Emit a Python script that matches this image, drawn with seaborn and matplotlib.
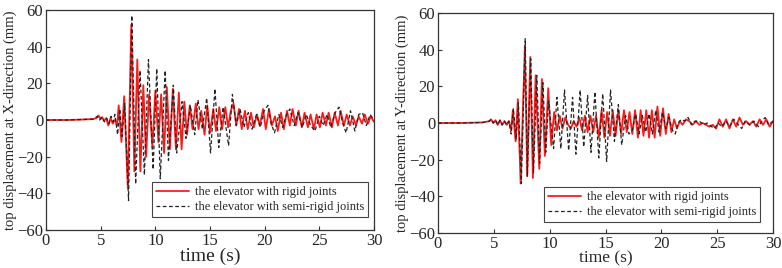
import matplotlib
matplotlib.use("Agg")
import matplotlib.pyplot as plt
import seaborn as sns

# peaks / troughs, X direction
x_rigid_t = [0, 2, 3.5, 4.3, 4.6, 4.8, 5.0, 5.15, 5.3, 5.5, 5.7, 5.9, 6.1, 6.3, 6.5,
             6.65, 6.9, 7.15, 7.48, 7.8, 8.08, 8.35, 8.63, 8.9, 9.15, 9.43, 9.73, 10.0,
             10.28, 10.53, 10.8, 11.05, 11.33, 11.6, 11.88, 12.15, 12.4, 12.65, 12.9,
             13.15, 13.4, 13.7, 13.95, 14.2, 14.5, 14.75, 15.0, 15.3, 15.55, 15.85, 16.1,
             16.4, 16.65, 16.9, 17.15, 17.4, 17.65, 17.9, 18.2, 18.45, 18.75, 19.0, 19.3,
             19.55, 19.85, 20.1, 20.4, 20.65, 20.95, 21.2, 21.5, 21.75, 22.05, 22.3, 22.55,
             22.85, 23.1, 23.4, 23.65, 23.95, 24.2, 24.5, 24.75, 25.05, 25.3, 25.6, 25.85,
             26.15, 26.4, 26.7, 26.95, 27.25, 27.5, 27.8, 28.05, 28.35, 28.6, 28.9, 29.15,
             29.45, 29.7, 30]
x_rigid_v = [0, 0, 0.3, 0.5, 1, 2.5, 0.5, 1.5, -0.5, 1, -3, 1, -2, 0, -3,
             8, -12, 13, -37, 52, -28, 33, -28, 19, -20, 14, -15, 16,
             -12, 14, -18, 18, -16, 17, -16, 15, -16, 10, -8,
             8, -5, 9, -5, 5, -8, 8, -7, 6, -6, 7, -5,
             7, -4, 5, 9, -3, 6, -5, 5, -5, 4, -4, 3,
             -3, 6, -5, 6, -3, 2, -6, 4, -5, 5, -3, 6,
             -3, 5, -4, 4, -4, 3, -5, 3, -4, 4, -3, 4,
             -4, 4, -3, 5, -3, 3, -3, 2, -3, 2, -2, 3,
             -2, 2, -1]

x_semi_t = [0, 2, 3.5, 4.3, 4.7, 4.9, 5.1, 5.35, 5.55, 5.75, 5.95, 6.15, 6.3, 6.55,
            6.75, 6.95, 7.2, 7.55, 7.85, 8.2, 8.6, 9.0, 9.37, 9.8, 10.13, 10.45, 10.9,
            11.2, 11.65, 11.95, 12.45, 12.8, 13.2, 13.6, 13.9, 14.3, 14.7, 15.05, 15.45,
            15.8, 16.2, 16.7, 17.05, 17.4, 17.75, 18.1, 18.5, 18.85, 19.25, 19.6, 19.95,
            20.3, 20.6, 20.9, 21.3, 21.65, 22.0, 22.3, 22.7, 23.05, 23.45, 23.8, 24.2,
            24.6, 25.0, 25.35, 25.7, 26.05, 26.45, 26.8, 27.15, 27.45, 27.85, 28.25,
            28.6, 28.95, 29.3, 29.65, 30]
x_semi_v = [0, 0, 0.3, 0.5, 2, 0, 1.5, -1, 1, -2, 2, -1, 3, -8,
            6, -9, 9, -44, 57, -35, 27, -30, 33, -27, 28, -32, 27,
            -22, 19, -18, 10, -10, 8, -8, 11, -5, 12, -18, 17,
            -15, 7, -14, 14, -3, 6, -4, 4, -5, 3, -4, 5,
            8, -2, -7, 3, -4, 3, 6, -3, 4, -4, 3, -3,
            -6, 2, -3, 3, -4, 4, 7, -2, -7, 5, -6,
            3, 4, -3, 3, 0]

# Y direction
y_rigid_t = [0, 2, 4, 4.6, 4.75, 4.95, 5.15, 5.35, 5.55, 5.75, 5.95, 6.15, 6.35, 6.55,
             6.7, 6.95, 7.15, 7.4, 7.78, 7.99, 8.26, 8.5, 8.74, 9.07, 9.3, 9.57, 9.87,
             10.14, 10.4, 10.65, 10.9, 11.15, 11.4, 11.65, 11.9, 12.15, 12.4, 12.65, 12.9,
             13.15, 13.4, 13.65, 13.9, 14.15, 14.4, 14.65, 14.9, 15.15, 15.4, 15.65, 15.9,
             16.15, 16.4, 16.65, 16.9, 17.15, 17.4, 17.65, 17.9, 18.15, 18.4, 18.65, 18.9,
             19.15, 19.4, 19.65, 19.9, 20.15, 20.4, 20.65, 20.9, 21.15, 21.4, 21.65, 21.9,
             22.2, 22.5, 22.8, 23.1, 23.4, 23.7, 24.0, 24.3, 24.6, 24.9, 25.2, 25.5, 25.8,
             26.1, 26.4, 26.7, 27.0, 27.3, 27.6, 27.9, 28.2, 28.5, 28.8, 29.1, 29.4, 29.7, 30]
y_rigid_v = [0, 0, 0.3, 1, 2, 0, 1.5, -1, 1.5, -1, 1, -1, 1, -4,
             7, -10, 13, -33, 42, -29, 36, -30, 26, -25, 24, -18, 19,
             -12, 6, -4, 4, -3, 3, -1, -3, 1, -2, 3, -4,
             4, -5, 4, -5, 4, -8, 7, -8, 6, -7, 7, -7,
             7, -6, 7, -5, 6, -6, 7, -8, 7, -7, 7, -8,
             7, -8, 9, -7, 8, -6, 5, -5, 2, -3, 1, -1,
             2, 1, -1, 1, -1, 0, -1, -2, -1, -3, 2, -2, 2,
             -3, 2, -2, 3, -1, 1, -1, 1, -2, 2, -1, 2, -2, 1]

y_semi_t = [0, 2, 4, 4.6, 4.75, 4.95, 5.15, 5.35, 5.55, 5.75, 5.95, 6.15, 6.35, 6.55,
            6.75, 7.0, 7.2, 7.46, 7.81, 8.0, 8.3, 8.55, 8.85, 9.1, 9.4, 9.65, 9.9, 10.35,
            10.65, 11.0, 11.33, 11.7, 12.05, 12.35, 12.73, 13.05, 13.4, 13.7, 14.05, 14.4,
            14.75, 15.1, 15.45, 15.8, 16.15, 16.45, 16.8, 17.1, 17.4, 17.7, 18.0, 18.3,
            18.6, 18.9, 19.2, 19.5, 19.8, 20.1, 20.4, 20.7, 21.0, 21.25, 21.5, 21.8, 22.1,
            22.4, 22.7, 23.0, 23.4, 23.8, 24.1, 24.5, 24.75, 25.1, 25.4, 25.8, 26.1, 26.5,
            26.9, 27.2, 27.5, 27.9, 28.3, 28.7, 29.0, 29.3, 29.6, 30]
y_semi_v = [0, 0, 0.3, 1, 2, 0, 1.5, -1, 1.5, -1, 1, -1, 1, -6,
            8, -9, 11, -33, 46, -29, 35, -27, 26, -22, 22, -16, 12, -14,
            14, -14, 18, -15, 14, -17, 18, -13, 15, -16, 17, -19,
            16, -21, 18, -10, 10, -12, 4, -6, -4, 5, -6, 4,
            -5, 5, -6, 7, -5, 6, -3, 3, -4, -6, 0, 2, 1,
            3, -1, 1, 1, -1, 0, -2, -3, 0, -2, 1, -2, 2,
            -1, -3, 1, -1, 1, -2, 1, 3, -1, 1]

labels = ["the elevator with rigid joints", "the elevator with semi-rigid joints"]

sns.set_style("ticks")
plt.rcParams["font.family"] = ["Liberation Serif", "DejaVu Serif"]

fig = plt.figure(figsize=(7.82, 2.68), dpi=100)
ax1 = fig.add_axes([46 / 782, 38 / 268, 328 / 782, 220 / 268])
ax2 = fig.add_axes([438 / 782, 35 / 268, 335 / 782, 220 / 268])

panels = [
    (ax1, x_rigid_t, x_rigid_v, x_semi_t, x_semi_v,
     "top displacement at X-direction (mm)", 14, (0.982, 0.059)),
    (ax2, y_rigid_t, y_rigid_v, y_semi_t, y_semi_v,
     "top displacement at Y-direction (mm)", 12.5, (0.961, 0.05)),
]

for ax, rt, rv, st, sv, ylab, xfs, anchor in panels:
    sns.lineplot(x=rt, y=rv, ax=ax, color="#ff1a1a", lw=1.3, sort=False,
                 estimator=None, label=labels[0])
    sns.lineplot(x=st, y=sv, ax=ax, color="#222222", lw=0.9, sort=False,
                 estimator=None, label=labels[1], linestyle=(0, (3, 2)))
    ax.set_xlim(0, 30)
    ax.set_ylim(-60, 60)
    ax.set_xticks(range(0, 31, 5))
    ax.set_yticks(range(-60, 61, 20))
    ax.tick_params(direction="in", length=3, labelsize=12, pad=2, color="#333333")
    ax.set_xlabel("time (s)", fontsize=xfs, labelpad=-1)
    ax.set_ylabel(ylab, fontsize=10.5, labelpad=0)
    for s in ax.spines.values():
        s.set_visible(True)
        s.set_color("#333333")
        s.set_linewidth(0.9)
    leg = ax.legend(loc="lower right", bbox_to_anchor=anchor, borderaxespad=0,
                    fontsize=9, frameon=True, fancybox=False, framealpha=1,
                    edgecolor="#444444", handlelength=2.6, borderpad=0.3,
                    labelspacing=0.25, handletextpad=0.5)
    leg.get_frame().set_linewidth(0.8)

fig.savefig("out.png", dpi=100)
